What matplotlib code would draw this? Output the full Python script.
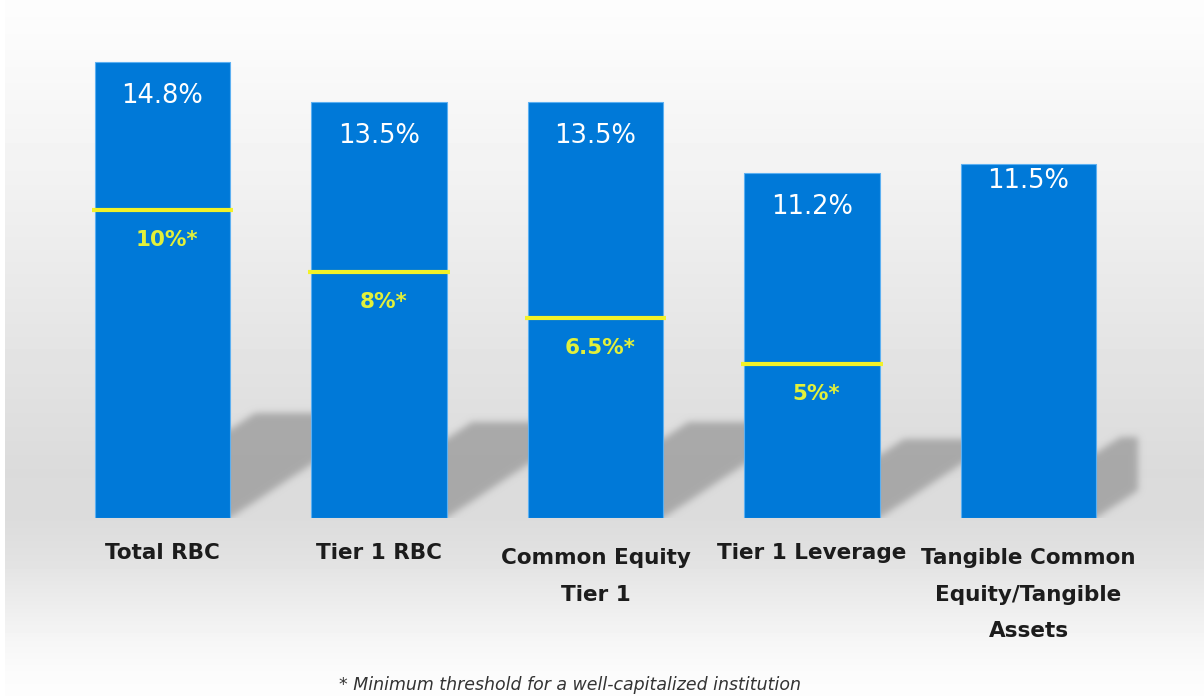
import numpy as np
import matplotlib
matplotlib.use("Agg")
import matplotlib.pyplot as plt
from matplotlib.path import Path

# Capital ratios and regulatory thresholds
categories = ["Total RBC", "Tier 1 RBC", "Common Equity\nTier 1",
              "Tier 1 Leverage", "Tangible Common\nEquity/Tangible\nAssets"]
ratios = [14.8, 13.5, 13.5, 11.2, 11.5]
value_labels = ["14.8%", "13.5%", "13.5%", "11.2%", "11.5%"]
thresholds = [10, 8, 6.5, 5, None]
threshold_labels = ["10%*", "8%*", "6.5%*", "5%*", None]
footnote = "* Minimum threshold for a well-capitalized institution"

# Styling
BAR_COLOR = "#0079d8"
BAR_EDGE = "#5cb0f2"
LINE_COLOR = "#f2f228"
THRESH_TEXT = "#e2f03a"
LABEL_COLOR = "#1c1c1c"
FONT = "DejaVu Sans"
value_offsets_px = [34, 34, 34, 34, 17]

W, H, DPI = 1204, 696, 100
fig = plt.figure(figsize=(W / DPI, H / DPI), dpi=DPI)

# Soft vertical grey gradient backdrop
bg = fig.add_axes([0, 0, 1, 1], zorder=0)
stops_y = [0, 100, 200, 300, 400, 470, 520, 560, 600, 640, 670, 696]
stops_v = [253, 247, 240, 232, 224, 219, 220, 226, 236, 246, 251, 253]
rows = np.interp(np.arange(H), stops_y, stops_v) / 255.0
backdrop = np.repeat(rows[:, None], W, axis=1)
backdrop[:, :5] = 1.0
bg.imshow(backdrop, cmap="gray", vmin=0, vmax=1, extent=(0, W, H, 0),
          aspect="auto", interpolation="bilinear")
bg.set_xlim(0, W)
bg.set_ylim(H, 0)
bg.axis("off")

# Plot axes: baseline of the bars sits at 518 px from the top
base_px = 518
px_x, first_px, px_y = 216.5, 162.5, 30.8
ax = fig.add_axes([0, (H - base_px) / H, 1, base_px / H], zorder=1)
ax.patch.set_alpha(0)
x0, x1 = -first_px / px_x, (W - first_px) / px_x
y1 = base_px / px_y
ax.set_xlim(x0, x1)
ax.set_ylim(0, y1)
ax.axis("off")

x = np.arange(len(categories))
bar_w = 0.624

# Cast shadows behind the bars (rasterised and blurred)
slope = (px_x * 0.66) / px_y          # data-y per data-x along shadow diagonal
bevel = 25 / px_x
inset = 20 / px_x
gx = x0 + (np.arange(W) + 0.5) / px_x
gy = y1 - (np.arange(base_px) + 0.5) / px_y
GX, GY = np.meshgrid(gx, gy)
pts = np.column_stack([GX.ravel(), GY.ravel()])
mask = np.zeros(GX.size)
for i, v in enumerate(ratios):
    left, right = x[i] - bar_w / 2 + inset, x[i] + bar_w / 2
    reach = (1 - bar_w) + 0.06 if i < len(ratios) - 1 else 42 / px_x
    top = 0.23 * v
    poly = [(left, 0), (right, 0), (right + reach, reach * slope),
            (right + reach, top), (right + bevel, top),
            (right, top - bevel * slope), (left, top - bevel * slope)]
    inside = Path(poly).contains_points(pts)
    mask = np.maximum(mask, inside.astype(float))
mask = mask.reshape(GX.shape)
sig = 3.5
k = np.arange(-12, 13)
kern = np.exp(-0.5 * (k / sig) ** 2)
kern /= kern.sum()
mask = np.apply_along_axis(lambda r: np.convolve(r, kern, mode="same"), 1, mask)
mask = np.apply_along_axis(lambda c: np.convolve(c, kern, mode="same"), 0, mask)
shadow = np.zeros(mask.shape + (4,))
shadow[..., :3] = 0.64
shadow[..., 3] = mask * 0.9
ax.imshow(shadow, extent=(x0, x1, 0, y1), origin="upper", aspect="auto",
          interpolation="bilinear", zorder=1)

# Bars
ax.bar(x, ratios, width=bar_w, color=BAR_COLOR, edgecolor=BAR_EDGE,
       linewidth=0.8, zorder=3)

# Value labels inside the bars
for i, (v, lab) in enumerate(zip(ratios, value_labels)):
    ax.annotate(lab, xy=(x[i], v), xytext=(0, -value_offsets_px[i] * 0.72),
                textcoords="offset points", ha="center", va="center",
                color="white", fontsize=18.5, family=FONT, zorder=5)

# Well-capitalized threshold lines and labels
ext = 3 / px_x
for i, (t, lab) in enumerate(zip(thresholds, threshold_labels)):
    if t is None:
        continue
    ax.hlines(t, x[i] - bar_w / 2 - ext, x[i] + bar_w / 2 + ext,
              color=LINE_COLOR, linewidth=3, zorder=4)
    ax.annotate(lab, xy=(x[i], t), xytext=(3, -30 * 0.72),
                textcoords="offset points", ha="center", va="center",
                color=THRESH_TEXT, fontsize=15.5, fontweight="bold",
                family=FONT, zorder=5)

# Category labels under the bars
for i, cat in enumerate(categories):
    off = 18 if "\n" not in cat else 21.5
    ax.annotate(cat, xy=(x[i], 0), xycoords=ax.get_xaxis_transform(),
                xytext=(0, -off), textcoords="offset points",
                ha="center", va="top", ma="center", linespacing=2.05,
                color=LABEL_COLOR, fontsize=15.5, fontweight="bold",
                family=FONT, annotation_clip=False)

# Footnote along the bottom edge
fig.text(570 / W, 2 / H, footnote, ha="center", va="bottom",
         fontsize=12.5, style="italic", color="#333333", family=FONT)

fig.savefig("out.png", dpi=DPI)
